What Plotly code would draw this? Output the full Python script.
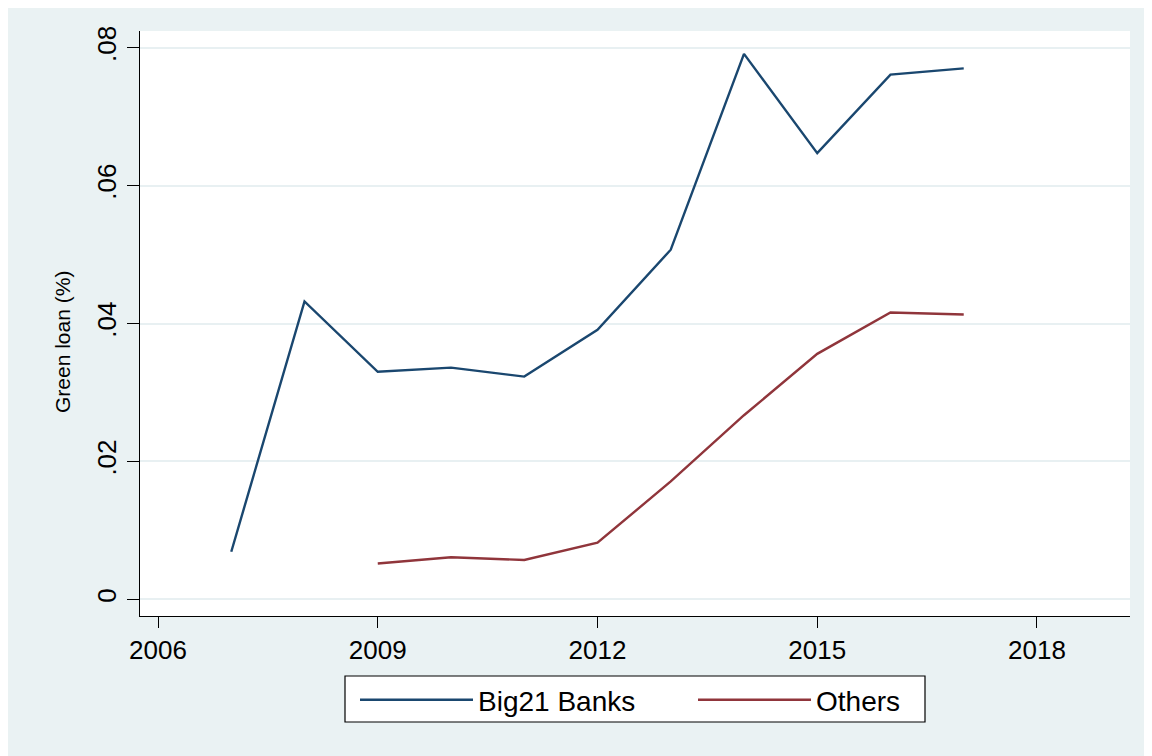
import plotly.graph_objects as go

years_big = [2007, 2008, 2009, 2010, 2011, 2012, 2013, 2014, 2015, 2016, 2017]
big21 = [0.0069, 0.0432, 0.0330, 0.0336, 0.0323, 0.0391, 0.0507, 0.0791, 0.0647, 0.0761, 0.0770]

years_oth = [2009, 2010, 2011, 2012, 2013, 2014, 2015, 2016, 2017]
others = [0.0052, 0.0061, 0.0057, 0.0082, 0.0171, 0.0267, 0.0356, 0.0416, 0.0413]

x_ticks = [2006, 2009, 2012, 2015, 2018]
y_ticks = [0, 0.02, 0.04, 0.06, 0.08]
y_ticktext = ["0", ".02", ".04", ".06", ".08"]

BG = "#EAF2F3"
FONT = "Liberation Sans, Arial, Helvetica, sans-serif"

fig = go.Figure()
fig.add_trace(go.Scatter(x=years_big, y=big21, mode="lines", name="Big21 Banks",
                         line=dict(color="#1a476f", width=2.4)))
fig.add_trace(go.Scatter(x=years_oth, y=others, mode="lines", name="Others",
                         line=dict(color="#90353b", width=2.4)))

OFF = 8  # page body margin
W, H = 1152 - OFF, 756 - OFF
L, R, T, B = 140 - OFF, 1130 - OFF, 31 - OFF, 616 - OFF
pw, ph = R - L, B - T

def px(x):
    return (x - OFF - L) / pw

def py(y):
    return (B - (y - OFF)) / ph

fig.update_layout(
    width=W, height=H,
    margin=dict(l=L, r=W - R, t=T, b=H - B),
    paper_bgcolor=BG,
    plot_bgcolor="white",
    font=dict(family=FONT, size=26, color="black"),
    showlegend=True,
    legend=dict(orientation="h", x=px(355), xanchor="left", y=py(675), yanchor="top",
                bgcolor="rgba(0,0,0,0)", borderwidth=0,
                font=dict(size=28), entrywidth=210, itemwidth=113,
                tracegroupgap=0),
    xaxis=dict(range=[2005.754, 2019.27], tickmode="array", tickvals=x_ticks,
               showgrid=False, zeroline=False, showline=True, linecolor="black",
               linewidth=1.3, ticks="outside", ticklen=11, tickwidth=1.3,
               tickcolor="black", tickfont=dict(size=26)),
    yaxis=dict(range=[-0.00242, 0.08242], tickmode="array", tickvals=y_ticks,
               ticktext=y_ticktext, tickangle=-90, showgrid=True,
               gridcolor="#E8F0F2", gridwidth=2, zeroline=False, showline=True,
               linecolor="black", linewidth=1.3, ticks="outside", ticklen=12,
               tickwidth=1.3, tickcolor="black", tickfont=dict(size=26)),
    annotations=[dict(text="Green loan (%)", x=px(62), y=py(342), xref="paper",
                      yref="paper", textangle=-90, showarrow=False,
                      font=dict(size=21), xanchor="center", yanchor="middle")],
    shapes=[
        dict(type="rect", xref="paper", yref="paper", x0=px(345), x1=px(925),
             y0=py(676), y1=py(722), fillcolor="white",
             line=dict(color="black", width=1.2), layer="above"),
    ],
)

fig.write_html("out.html")
